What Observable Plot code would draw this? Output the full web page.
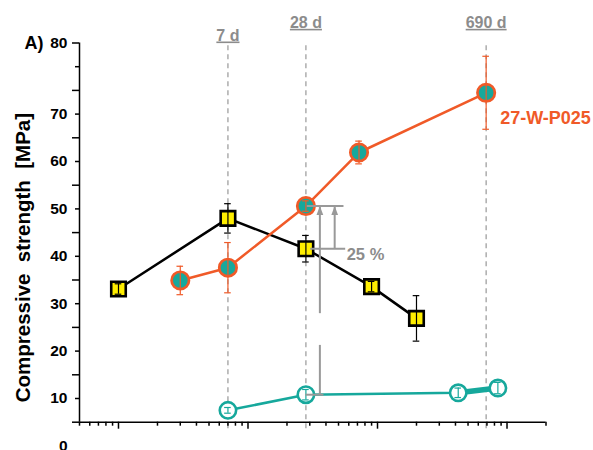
<!DOCTYPE html>
<html>
<head>
<meta charset="utf-8">
<script src="https://cdn.jsdelivr.net/npm/d3@7"></script>
<script src="https://cdn.jsdelivr.net/npm/@observablehq/plot@0.6"></script>
<style>
  html, body { margin: 0; padding: 0; background: #fff; }
</style>
</head>
<body>
<div id="chart"></div>
<script>
// Compressive strength (MPa) against age (days) for three mixes; error = ± half-range
const blackDays = [1, 7, 28, 90, 200];
const blackMPa  = [33.1, 48.0, 41.6, 33.6, 26.9];
const blackErr  = [1.1, 3.1, 2.8, 1.1, 4.8];

const orangeDays = [3, 7, 28, 72, 690];
const orangeMPa  = [34.9, 37.6, 50.6, 61.9, 74.5];
const orangeErr  = [3.0, 5.3, 1.1, 2.4, 7.7];

const tealDays = [7, 28, 420, 850];
const tealMPa  = [7.5, 10.8, 11.2, 12.2];
const tealErr  = [0.6, 1.1, 1.0, 1.2];

const seriesName = "27-W-P025";
const yTitle = "Compressive  strength  [MPa]";
const panelTag = "A)";

// reference ages marked by dashed lines
const markDays   = [7, 28, 690];
const markLabels = ["7 d", "28 d", "690 d"];

// axes
const xDomain = [0.5, 2000];
const xMajorTicks = [1, 10, 100, 1000];
const xMinorTicks = [0.5, 0.6, 0.7, 0.8, 0.9,
  2, 3, 4, 5, 6, 7, 8, 9,
  20, 30, 40, 50, 60, 70, 80, 90,
  200, 300, 400, 500, 600, 700, 800, 900, 2000];
const yAxisMin = 5, yAxisMax = 85;
const yLabelTicks = [0, 10, 20, 30, 40, 50, 60, 70];
const yShortTicks = [10, 20, 30, 40, 50, 60, 70, 80];
const yLongTicks  = [5, 15, 25, 35, 45, 55, 65, 75, 85];
const yTopLabel = "80";

// 28-day strength-loss annotation (days along the age axis)
const levelLineDays = [[28.7, 55.1], [30.5, 56.8], [28, 38.6]];
const arrowDays = [35.9, 46.7];
const arrowBreak = [21.2, 27.9];
const pctLabel = "25 %";

const ORANGE = "#f05a28", TEAL = "#16a89c", YELLOW = "#ffee00";
const GRAY = "#999999", LABEL_GRAY = "#8c8c8c", DASH_GRAY = "#a0a0a0";

const rows = (days, mpa, err) => days.map((d, i) => ({day: d, mpa: mpa[i], err: err[i]}));
const black  = rows(blackDays, blackMPa, blackErr);
const orange = rows(orangeDays, orangeMPa, orangeErr);
const teal   = rows(tealDays, tealMPa, tealErr);

const i28o = orangeDays.indexOf(28), i28b = blackDays.indexOf(28), i28t = tealDays.indexOf(28);
const levels = [orangeMPa[i28o], blackMPa[i28b], tealMPa[i28t]];
const levelLines = levelLineDays.map(([a, b], i) => ({from: a, to: b, mpa: levels[i]}));
const shafts = [
  {day: arrowDays[0], y1: tealMPa[i28t], y2: arrowBreak[0]},
  {day: arrowDays[0], y1: arrowBreak[1], y2: orangeMPa[i28o]},
  {day: arrowDays[1], y1: blackMPa[i28b], y2: orangeMPa[i28o]}
];

// filled arrowhead with its tip at the anchor point, pointing up
const arrowHead = {
  draw(ctx, size) {
    const r = Math.sqrt(size / Math.PI);
    ctx.moveTo(0, 0);
    ctx.lineTo(-0.75 * r, 2 * r);
    ctx.lineTo(0.75 * r, 2 * r);
    ctx.closePath();
  }
};

function errorBars(data, color) {
  const cap = {stroke: color, strokeWidth: 1.2, insetLeft: -3.3, insetRight: -3.3};
  return [
    Plot.ruleX(data, {x: "day", y1: d => d.mpa - d.err, y2: d => d.mpa + d.err, stroke: color, strokeWidth: 1.2}),
    Plot.ruleY(data, {y: d => d.mpa - d.err, x1: "day", x2: "day", ...cap}),
    Plot.ruleY(data, {y: d => d.mpa + d.err, x1: "day", x2: "day", ...cap})
  ];
}

const noText = () => "";

const chart = Plot.plot({
  width: 593,
  height: 450,
  marginLeft: 79,
  marginRight: 47.5,
  marginTop: 42.5,
  marginBottom: 28.3,
  style: {fontFamily: "'Liberation Sans', Arial, sans-serif", fontWeight: "bold", background: "#fff", overflow: "visible"},
  x: {type: "log", domain: xDomain, axis: null},
  y: {domain: [0, 85], range: [445.4, 42.5], axis: null},
  marks: [
    // age markers
    Plot.ruleX(markDays, {x: d => d, y1: yAxisMin, y2: yAxisMax, insetTop: 6.5, stroke: DASH_GRAY, strokeWidth: 1.3, strokeDasharray: "5,4"}),
    Plot.text(markDays.slice(0, 1), {x: d => d, text: (d, i) => markLabels[i], frameAnchor: "top", lineAnchor: "bottom", textAnchor: "middle", dy: -2.5,
      fill: LABEL_GRAY, fontSize: 16, fontWeight: "bold"}),
    Plot.text(markDays.slice(1), {x: d => d, text: (d, i) => markLabels[i + 1], frameAnchor: "top", lineAnchor: "bottom", textAnchor: "middle", dy: -15.2,
      fill: LABEL_GRAY, fontSize: 16, fontWeight: "bold"}),

    // axes
    Plot.ruleY([yAxisMin], {stroke: "black", strokeWidth: 1.5}),
    Plot.ruleX([xDomain[0]], {y1: yAxisMin, y2: yAxisMax, stroke: "black", strokeWidth: 1.5}),
    Plot.axisX(xMajorTicks, {anchor: "bottom", tickSize: 7, tickFormat: noText, strokeWidth: 1.5, label: null}),
    Plot.axisX(xMinorTicks, {anchor: "bottom", tickSize: 4, tickFormat: noText, strokeWidth: 1.5, label: null}),
    Plot.axisY(yLongTicks, {anchor: "left", tickSize: 7, tickFormat: noText, strokeWidth: 1.5, label: null}),
    Plot.axisY(yShortTicks, {anchor: "left", tickSize: 4, tickFormat: noText, strokeWidth: 1.5, label: null}),
    Plot.axisY(yLabelTicks, {anchor: "left", tickSize: 0, tickPadding: 12, fontSize: 15.5, fontWeight: "bold", fill: "black", label: null}),
    Plot.text([yTopLabel], {frameAnchor: "top-left", dx: -12, textAnchor: "end", lineAnchor: "middle", fontSize: 15.5, fontWeight: "bold", fill: "black"}),
    Plot.text([panelTag], {frameAnchor: "top-left", dx: -36, textAnchor: "end", lineAnchor: "middle", fontSize: 18, fontWeight: "bold", fill: "black"}),
    Plot.text([yTitle], {frameAnchor: "left", rotate: -90, dx: -56, dy: 25, textAnchor: "middle", lineAnchor: "middle",
      fontSize: 20.5, fontWeight: "bold", fill: "black"}),

    // series lines
    Plot.line(black, {x: "day", y: "mpa", stroke: "black", strokeWidth: 2.5}),
    Plot.line(orange, {x: "day", y: "mpa", stroke: ORANGE, strokeWidth: 2.5}),
    Plot.line(teal, {x: "day", y: "mpa", stroke: TEAL, strokeWidth: 2.5}),
    Plot.line(teal.slice(2), {x: "day", y: "mpa", stroke: TEAL, strokeWidth: 5.5}),

    // markers
    Plot.dot(black, {x: "day", y: "mpa", symbol: "square", r: 8.2, fill: YELLOW, stroke: "black", strokeWidth: 2.6}),
    Plot.dot(orange, {x: "day", y: "mpa", r: 8.7, fill: TEAL, stroke: ORANGE, strokeWidth: 2.7}),
    Plot.dot(teal, {x: "day", y: "mpa", r: 8.2, fill: "white", stroke: TEAL, strokeWidth: 2.6}),

    // error bars
    ...errorBars(black, "black"),
    ...errorBars(orange, ORANGE),
    ...errorBars(teal, TEAL),

    // series label
    Plot.text([seriesName], {x: orangeDays[orangeDays.length - 1], y: orangeMPa[orangeMPa.length - 1], dx: 14, dy: 25,
      textAnchor: "start", fill: ORANGE, fontSize: 18, fontWeight: "bold"}),

    // 28-day annotation
    Plot.ruleY(levelLines, {y: "mpa", x1: "from", x2: "to", stroke: GRAY, strokeWidth: 2}),
    Plot.ruleX(shafts, {x: "day", y1: "y1", y2: "y2", stroke: GRAY, strokeWidth: 2}),
    Plot.dot(arrowDays, {x: d => d, y: () => orangeMPa[i28o], symbol: arrowHead, r: 4.5, fill: GRAY, stroke: null}),
    Plot.text([pctLabel], {x: levelLineDays[1][1], y: blackMPa[i28b], dx: 1, dy: 6, textAnchor: "start",
      fill: LABEL_GRAY, fontSize: 16.5, fontWeight: "bold"})
  ]
});

document.getElementById("chart").appendChild(chart);

// underline the age labels and keep the double spaces of the axis title
const svg = d3.select(chart);
svg.selectAll("text")
  .filter(function () { return markLabels.includes(this.textContent); })
  .attr("text-decoration", "underline")
  .style("text-decoration", "underline");
svg.selectAll("text")
  .filter(function () { return this.textContent === yTitle; })
  .style("white-space", "pre");
</script>
</body>
</html>
